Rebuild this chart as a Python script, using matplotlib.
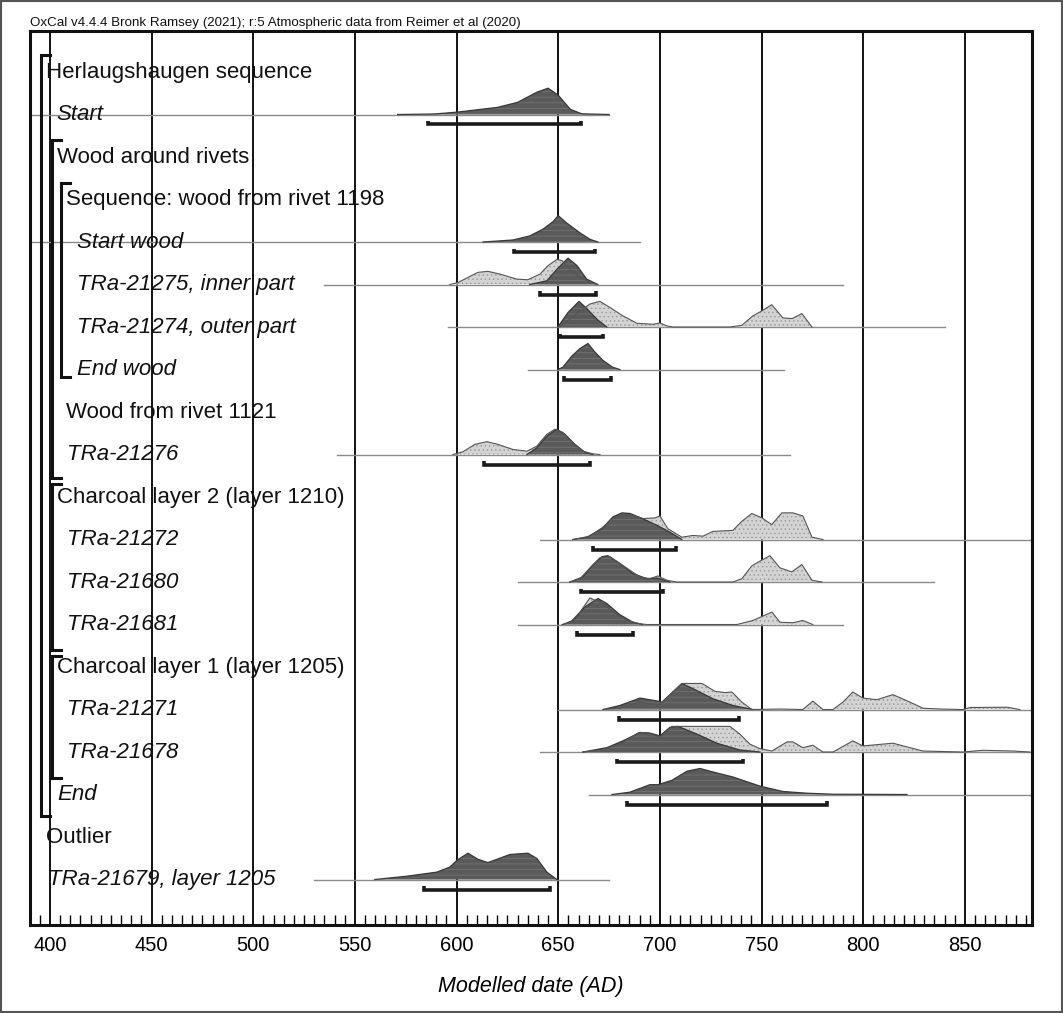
import matplotlib
matplotlib.use("Agg")
import matplotlib.pyplot as plt
from matplotlib.patches import Rectangle
from matplotlib.ticker import MultipleLocator

plt.rcParams["font.family"] = ["Liberation Sans", "DejaVu Sans"]
plt.rcParams["hatch.linewidth"] = 0.5

# ---- data (calendar years AD, relative probability) ----
row_labels = [
    "Herlaugshaugen sequence", "Start", "Wood around rivets",
    "Sequence: wood from rivet 1198", "Start wood", "TRa-21275, inner part",
    "TRa-21274, outer part", "End wood", "Wood from rivet 1121", "TRa-21276",
    "Charcoal layer 2 (layer 1210)", "TRa-21272", "TRa-21680", "TRa-21681",
    "Charcoal layer 1 (layer 1205)", "TRa-21271", "TRa-21678", "End",
    "Outlier", "TRa-21679, layer 1205",
]
row_italic = [False, True, False, False, True, True, True, True, False, True,
              False, True, True, True, False, True, True, True, False, True]

start_post_x = [571, 589, 600, 620, 630, 639.5, 645, 650, 656, 661.6, 675]
start_post_y = [0, 0.5, 2.3, 7, 12, 22, 26, 19, 5, 0.7, 0]

startwood_post_x = [613, 627.7, 636, 642.5, 647.4, 650, 654, 660.7, 665.6, 669.5]
startwood_post_y = [0, 2, 6, 12.7, 20, 26, 19, 9, 2.7, 0]

tra21275_prior_x = [596.7, 600.7, 610.5, 615.4, 621.3, 629.7, 635, 641, 645, 649.3, 651.8, 657.2, 664, 669]
tra21275_prior_y = [0, 2, 12, 13, 10.3, 5.3, 4.7, 10.3, 18.7, 24.7, 23.7, 12, 3.7, 0]
tra21275_post_x = [636, 644.4, 649.3, 654.8, 659.2, 664, 669.5]
tra21275_post_y = [0, 3.7, 15, 26, 18.7, 5.3, 0]

tra21274_prior_x = [650.8, 655.7, 660.7, 665.6, 670.5, 675.4, 681.8, 688.7, 696.6, 700, 703.5, 706.4,
                    734.4, 740.3, 745.7, 750.2, 755, 760.5, 765, 769.8, 774.8]
tra21274_prior_y = [0, 7.7, 16, 22.7, 25.3, 19.3, 11, 3.7, 2.7, 4, 1, 0,
                    0, 1.7, 11, 16, 22, 9, 8.3, 13.3, 0]
tra21274_post_x = [649.8, 654.8, 660.2, 664, 669, 673.9]
tra21274_post_y = [0, 14.3, 25.3, 18.3, 7.7, 0]

endwood_post_x = [649.8, 652.3, 656.7, 660.7, 664.6, 668, 672, 676.7, 680.3]
endwood_post_y = [0, 2.3, 13.3, 20.7, 25.7, 17.3, 9, 2.3, 0]

tra21276_prior_x = [598.2, 603.1, 609, 614.9, 620.3, 627.7, 634.6, 639.5, 644.4, 648.4, 652.3, 657.2, 662.1, 667, 670.5]
tra21276_prior_y = [0, 2.7, 10, 12.7, 10, 5, 3.3, 8.3, 20, 25, 21.7, 11.7, 3.3, 0.7, 0]
tra21276_post_x = [634.6, 639.5, 644.4, 649.3, 653.3, 658.2, 663.1, 667]
tra21276_post_y = [0, 6.7, 18.3, 25, 20, 10, 2.3, 0]

tra21272_prior_x = [657.2, 665.6, 672, 676.4, 681.3, 686.2, 691.8, 697.5, 700, 703.9, 710.8, 716.2, 721.2,
                    726, 735.9, 740.3, 745.2, 750.2, 755, 760, 765.4, 770.3, 774.8, 780.2]
tra21272_prior_y = [0, 3.3, 12.3, 20, 24.7, 24, 20.7, 21.3, 23.3, 10.7, 2.3, 4, 3.3,
                    8, 9, 18, 25.7, 21.3, 14.7, 26.3, 26.3, 23.3, 2.3, 0]
tra21272_post_x = [657.2, 664.1, 671.5, 676.9, 681.3, 685.3, 690.2, 698.6, 704.9, 710.8]
tra21272_post_y = [0, 2.3, 10.7, 22.3, 26.3, 25.7, 21.7, 14, 7.3, 0]

tra21680_prior_x = [655.7, 660.7, 665.6, 670.5, 675.4, 680.3, 685.2, 690.2, 695.1, 699, 703.4, 708.4,
                    735.9, 740.3, 745.2, 750.2, 754.1, 759, 764.9, 769.8, 774.8, 779.7]
tra21680_prior_y = [0, 3.3, 14, 24, 25, 18.3, 11.7, 5, 3.3, 6, 1.7, 0,
                    0, 3.3, 16, 21.7, 26, 14, 10, 17.3, 1.7, 0]
tra21680_post_x = [655.7, 662.1, 667, 671.5, 674.4, 680.3, 686.7, 693.6, 698.6, 704.9]
tra21680_post_y = [0, 5, 16.7, 25, 26, 18.3, 8.3, 3.3, 4, 0]

tra21681_prior_x = [651.8, 655.7, 660.7, 665.6, 668, 672, 676.9, 683.8, 690.2, 693.6,
                    737.9, 745.7, 755.1, 759, 765.4, 770.3, 775.2]
tra21681_prior_y = [0, 1.7, 12.3, 26.3, 24, 20.7, 12.3, 4, 0.7, 0,
                    0, 4, 12.3, 2.3, 1.7, 4, 0]
tra21681_post_x = [652.3, 657.2, 663.1, 669.5, 673.9, 680.3, 686.7, 691.6]
tra21681_post_y = [0, 4, 17.3, 25.7, 20.7, 9.7, 2.3, 0]

tra21271_prior_x = [672, 680.3, 690.2, 695.1, 700, 710.8, 720.7, 727, 732, 735.4, 740.3, 745.2,
                    759, 770.3, 775.2, 780.2, 785.1, 790, 794.9, 799.8, 806.7, 814.6, 823, 829.3,
                    837.7, 849, 852.5, 870.7, 877]
tra21271_prior_y = [0, 1.3, 7.3, 5.7, 4.7, 25.7, 25.7, 18, 16.7, 17.3, 7.3, 0,
                    0.5, 0, 8.3, 0, 0, 7.3, 17.3, 11.3, 9.7, 14.7, 7.3, 1.3,
                    0.5, 0, 2, 2.3, 0]
tra21271_post_x = [672, 680.3, 690.2, 699, 701, 710.8, 716.2, 726, 735.9, 745.7]
tra21271_post_y = [0, 4, 11.3, 8.3, 7.3, 25.7, 20.7, 10.7, 4, 0]

tra21678_prior_x = [662.1, 670.5, 680.3, 689.2, 693.6, 700, 705.9, 711.3, 734.4, 739.3, 744.3, 749.2,
                    755.1, 762.5, 765.4, 770.3, 775.2, 780.2, 785.1, 794.9, 799.8, 814.6, 829.3,
                    849, 858.9, 873.6, 882]
tra21678_prior_y = [0, 1.7, 7.7, 18.7, 19.3, 14.3, 25.3, 25.3, 25.3, 17.7, 7.7, 3.3,
                    1, 10, 10, 4.3, 6.7, 0, 0, 11, 6, 8.7, 1,
                    0, 1.7, 1, 0]
tra21678_post_x = [662.1, 673.9, 681.8, 690.2, 695.1, 700, 704.9, 708.9, 718.2, 728, 739.3, 749.2]
tra21678_post_y = [0, 4.3, 11, 19.3, 18.7, 16, 24.3, 25.3, 17.7, 8.7, 2, 0]

end_post_x = [676.4, 685.2, 695.1, 699, 705.9, 713.3, 719.7, 726, 735.9, 749.2, 760.5, 772.3, 785.1, 821.5]
end_post_y = [0, 2.3, 9.7, 9.7, 14, 23, 25.7, 22.3, 17.3, 8.3, 3, 1.3, 0.3, 0]

tra21679_post_x = [559.8, 575.6, 590.3, 596.7, 600.2, 605.6, 610.5, 615.4, 626.2, 635.1, 639.5, 644.4, 649.3]
tra21679_post_y = [0, 3.3, 7.3, 12.3, 19, 26, 20, 16.7, 24.7, 26, 20.7, 7.3, 0]

# calculation span of each row (thin baseline) and 95.4% range bars
span_rows = [1, 4, 5, 6, 7, 9, 11, 12, 13, 15, 16, 17, 19]
span_from = [390, 390, 535, 596, 635, 541, 641, 630, 630, 650, 641, 665, 530]
span_to = [675, 690, 790, 840, 761, 764, 883, 835, 790, 883, 883, 883, 675]
range_from = [586, 628, 641, 651, 653, 613.4, 667, 661, 659, 680, 679, 684, 584]
range_to = [661, 668, 668.5, 672, 676, 665.6, 708, 701.5, 687, 739, 741, 782, 646]

prior_curves = {
    5: (tra21275_prior_x, tra21275_prior_y),
    6: (tra21274_prior_x, tra21274_prior_y),
    9: (tra21276_prior_x, tra21276_prior_y),
    11: (tra21272_prior_x, tra21272_prior_y),
    12: (tra21680_prior_x, tra21680_prior_y),
    13: (tra21681_prior_x, tra21681_prior_y),
    15: (tra21271_prior_x, tra21271_prior_y),
    16: (tra21678_prior_x, tra21678_prior_y),
}
post_curves = {
    1: (start_post_x, start_post_y),
    4: (startwood_post_x, startwood_post_y),
    5: (tra21275_post_x, tra21275_post_y),
    6: (tra21274_post_x, tra21274_post_y),
    7: (endwood_post_x, endwood_post_y),
    9: (tra21276_post_x, tra21276_post_y),
    11: (tra21272_post_x, tra21272_post_y),
    12: (tra21680_post_x, tra21680_post_y),
    13: (tra21681_post_x, tra21681_post_y),
    15: (tra21271_post_x, tra21271_post_y),
    16: (tra21678_post_x, tra21678_post_y),
    17: (end_post_x, end_post_y),
    19: (tra21679_post_x, tra21679_post_y),
}

# ---- layout ----
label_x = [398, 403.4, 403.4, 407.9, 413.3, 413.3, 413.3, 413.3, 407.9, 408.4,
           403.4, 408.4, 408.4, 408.4, 403.4, 408.4, 408.4, 403.4, 398, 399]
# brackets: (x, top, bottom) in (year, row)
brackets = [(395.6, -0.4, 17.5), (401.0, 1.6, 9.55), (405.4, 2.61, 7.18),
            (401.0, 9.69, 13.6), (401.0, 13.74, 16.6)]
HSCALE = 0.62 / 26.0
BAR_OFF = 0.235

fig = plt.figure(figsize=(10.63, 10.13), dpi=100)
ax = fig.add_axes([0.02822, 0.08687, 0.94262, 0.88253])
ax.set_xlim(390.2, 883)
ax.set_ylim(20.07, -0.965)

for v in range(400, 851, 50):
    ax.axvline(v, color="#111111", lw=1.4, zorder=1)

for r, x0, x1 in zip(span_rows, span_from, span_to):
    ax.plot([x0, x1], [r, r], color="#8a8a8a", lw=1.0, zorder=2)

for r, (xs, ys) in prior_curves.items():
    yy = [r - v * HSCALE for v in ys]
    ax.fill_between(xs, r, yy, facecolor="#d3d3d3", edgecolor="#999999", hatch="....", lw=0, zorder=3)

for r, (xs, ys) in post_curves.items():
    yy = [r - v * HSCALE for v in ys]
    ax.fill_between(xs, r, yy, facecolor="#5a5a5a", edgecolor="#787878", hatch="---", lw=0, zorder=4)
    ax.plot(xs, yy, color="#383838", lw=0.9, zorder=5)

for r, (xs, ys) in prior_curves.items():
    yy = [r - v * HSCALE for v in ys]
    ax.plot(xs, yy, color="#555555", lw=0.8, zorder=6)

for r, x0, x1 in zip(span_rows, range_from, range_to):
    yb = r + BAR_OFF
    ax.plot([x0, x0, x1, x1], [yb - 0.08, yb, yb, yb - 0.08], color="#1a1a1a", lw=2.6,
            solid_capstyle="butt", solid_joinstyle="miter", zorder=7)

for i, (txt, it) in enumerate(zip(row_labels, row_italic)):
    ax.text(label_x[i], i, txt, fontsize=16, style="italic" if it else "normal",
            ha="left", va="center", color="#111111", zorder=8)

for bx, top, bot in brackets:
    ax.plot([bx + 4.3, bx, bx, bx + 4.3], [top, top, bot, bot], color="#111111", lw=2.2,
            solid_joinstyle="miter", zorder=8)

ax.set_yticks([])
ax.xaxis.set_major_locator(MultipleLocator(50))
ax.xaxis.set_minor_locator(MultipleLocator(5))
ax.set_xticks(range(400, 851, 50))
ax.tick_params(axis="x", which="major", direction="in", length=0, pad=8, labelsize=14.5)
ax.tick_params(axis="x", which="minor", direction="in", length=7, width=1.0)
for sp in ax.spines.values():
    sp.set_linewidth(2.2)
    sp.set_color("#111111")
ax.set_xlabel("Modelled date (AD)", fontsize=15.5, style="italic", labelpad=15)

fig.text(0.0282, 0.9712, "OxCal v4.4.4 Bronk Ramsey (2021); r:5 Atmospheric data from Reimer et al (2020)",
         fontsize=9.6, ha="left", va="bottom", color="#111111")
fig.patches.append(Rectangle((0.001, 0.001), 0.998, 0.998, transform=fig.transFigure,
                             fill=False, ec="#555555", lw=1.5))

fig.savefig("out.png", dpi=100)
